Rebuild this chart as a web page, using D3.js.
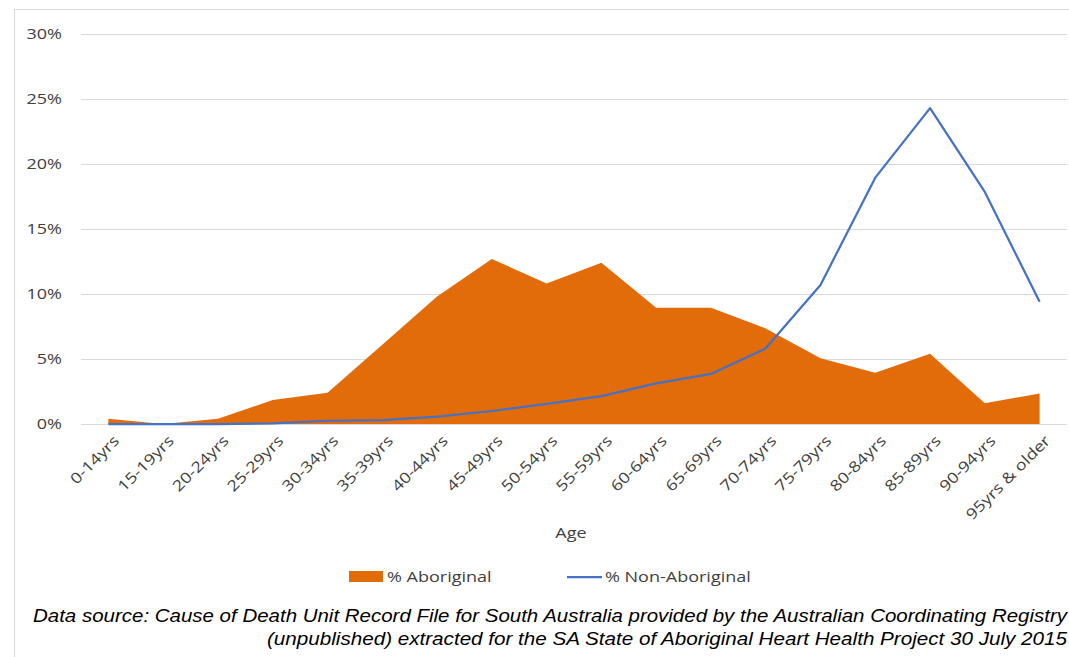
<!DOCTYPE html>
<html>
<head>
<meta charset="utf-8">
<script src="https://cdn.jsdelivr.net/npm/d3@7"></script>
<style>
  body { margin: 0; background: #fff; }
  svg { display: block; }
</style>
</head>
<body>
<div id="chart"></div>
<script>
// 全体
const SVG_WIDTH = 1069;
const SVG_HEIGHT = 657;
const PLOT = { left: 81, right: 1067, top: 34, bottom: 424 };

// データ
const AGE_GROUPS = ['0-14yrs', '15-19yrs', '20-24yrs', '25-29yrs', '30-34yrs', '35-39yrs',
    '40-44yrs', '45-49yrs', '50-54yrs', '55-59yrs', '60-64yrs', '65-69yrs', '70-74yrs',
    '75-79yrs', '80-84yrs', '85-89yrs', '90-94yrs', '95yrs & older'];
const ABORIGINAL = [0.4, 0.0, 0.4, 1.85, 2.4, 6.1, 9.8, 12.7, 10.8, 12.4, 8.95, 8.95,
    7.35, 5.05, 3.95, 5.4, 1.6, 2.35];
const NON_ABORIGINAL = [0.0, 0.0, 0.0, 0.05, 0.25, 0.3, 0.56, 1.0, 1.54, 2.15, 3.13, 3.85,
    5.82, 10.7, 18.95, 24.3, 17.85, 9.4];
const Y_TICKS = [0, 5, 10, 15, 20, 25, 30];
const SERIES_NAMES = ['% Aboriginal', '% Non-Aboriginal'];
const SOURCE_LINES = [
    'Data source: Cause of Death Unit Record File for South Australia provided by the Australian Coordinating Registry',
    '(unpublished) extracted for the SA State of Aboriginal Heart Health Project 30 July 2015'
];

const ORANGE = '#E36C0A';
const BLUE = '#4472C4';
const TEXT_COLOR = '#404040';
const AXIS_FONT = '"Open Sans", sans-serif';
const STRETCH = 1.2;   // 元画像は横に少し伸びている

// 文字を横に伸ばす
function stretch(sel, factor) {
    sel.each(function() {
        const w = this.getComputedTextLength();
        d3.select(this)
            .attr('textLength', w * factor)
            .attr('lengthAdjust', 'spacingAndGlyphs');
    });
}

const svg = d3.select('#chart')
    .append('svg')
    .attr('width', SVG_WIDTH)
    .attr('height', SVG_HEIGHT)
;

// 枠
svg.append('rect')
    .attr('x', 14.5)
    .attr('y', 9.5)
    .attr('width', SVG_WIDTH)
    .attr('height', SVG_HEIGHT)
    .attr('fill', 'none')
    .attr('stroke', '#D9D9D9')
;

// スケール
const x = d3.scaleBand()
    .domain(AGE_GROUPS)
    .range([PLOT.left, PLOT.right])
    .padding(0)
;
const cx = d => x(d) + x.bandwidth() / 2;
const y = d3.scaleLinear()
    .domain([0, 30])
    .range([PLOT.bottom, PLOT.top])
;

// 横線
const yAxis = svg.append('g')
    .attr('transform', `translate(${PLOT.left},0)`)
    .call(d3.axisLeft(y)
        .tickValues(Y_TICKS)
        .tickSize(-(PLOT.right - PLOT.left))
        .tickPadding(19)
        .tickFormat(d => d + '%'))
;
yAxis.select('.domain').remove();
yAxis.selectAll('.tick line').attr('stroke', '#D9D9D9');
yAxis.selectAll('.tick text')
    .attr('fill', TEXT_COLOR)
    .attr('font-family', AXIS_FONT)
    .attr('font-size', 15)
    .call(stretch, STRETCH)
;

// エリア
const area = d3.area()
    .x((d, i) => cx(AGE_GROUPS[i]))
    .y0(y(0))
    .y1(d => y(d));
svg.append('path')
    .datum(ABORIGINAL)
    .attr('d', area)
    .attr('fill', ORANGE)
;

// 線
const line = d3.line()
    .x((d, i) => cx(AGE_GROUPS[i]))
    .y(d => y(d));
svg.append('path')
    .datum(NON_ABORIGINAL)
    .attr('d', line)
    .attr('fill', 'none')
    .attr('stroke', BLUE)
    .attr('stroke-width', 2.25)
    .attr('stroke-linejoin', 'round')
;

// X軸ラベル
const xAxis = svg.append('g')
    .attr('transform', `translate(0,${PLOT.bottom})`)
    .call(d3.axisBottom(x).tickSize(0).tickPadding(0))
;
xAxis.select('.domain').remove();
xAxis.selectAll('.tick text')
    .attr('text-anchor', 'end')
    .attr('transform', 'translate(8,14) rotate(-45)')
    .attr('dy', '0.35em')
    .attr('y', 0)
    .attr('fill', TEXT_COLOR)
    .attr('font-family', AXIS_FONT)
    .attr('font-size', 15)
    .call(stretch, STRETCH)
;

// 軸タイトル
svg.append('text')
    .text('Age')
    .attr('x', 571)
    .attr('y', 538)
    .attr('text-anchor', 'middle')
    .attr('fill', TEXT_COLOR)
    .attr('font-family', AXIS_FONT)
    .attr('font-size', 15)
    .call(stretch, STRETCH)
;

// 凡例
const legend = svg.append('g')
    .attr('font-family', AXIS_FONT)
    .attr('font-size', 15)
    .attr('fill', TEXT_COLOR)
;
legend.append('rect')
    .attr('x', 349).attr('y', 571)
    .attr('width', 34).attr('height', 11)
    .attr('fill', ORANGE);
legend.append('text')
    .text(SERIES_NAMES[0])
    .attr('x', 387).attr('y', 582)
    .call(stretch, 1.2);
legend.append('line')
    .attr('x1', 567).attr('x2', 602)
    .attr('y1', 577).attr('y2', 577)
    .attr('stroke', BLUE).attr('stroke-width', 2.25);
legend.append('text')
    .text(SERIES_NAMES[1])
    .attr('x', 605).attr('y', 582)
    .call(stretch, 1.2);

// 出典
const source = svg.append('g')
    .attr('font-family', '"Liberation Sans", Arial, sans-serif')
    .attr('font-style', 'italic')
    .attr('font-size', 18)
    .attr('fill', '#000')
;
source.append('text')
    .text(SOURCE_LINES[0])
    .attr('x', 33)
    .attr('y', 622)
    .attr('textLength', 1034)
    .attr('lengthAdjust', 'spacingAndGlyphs')
;
source.append('text')
    .text(SOURCE_LINES[1])
    .attr('x', 1067)
    .attr('y', 645)
    .attr('text-anchor', 'end')
    .attr('textLength', 800)
    .attr('lengthAdjust', 'spacingAndGlyphs')
;
</script>
</body>
</html>
